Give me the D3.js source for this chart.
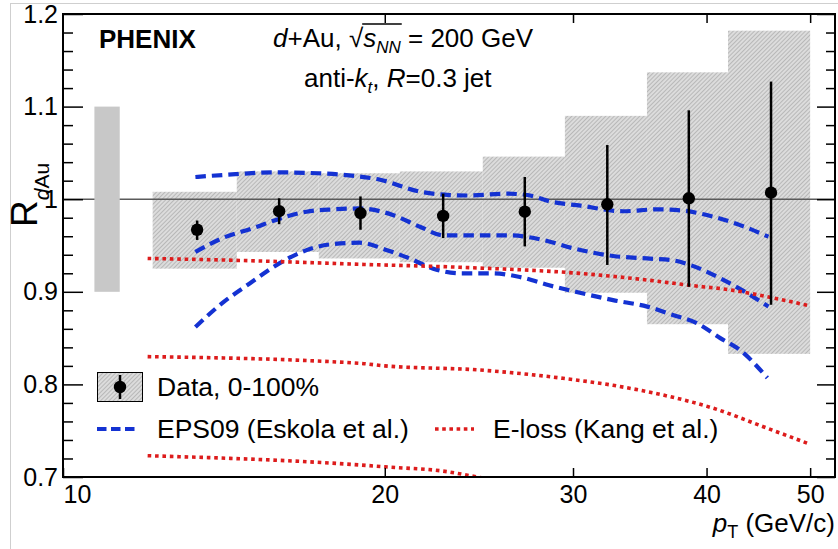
<!DOCTYPE html>
<html>
<head>
<meta charset="utf-8">
<script src="https://cdn.jsdelivr.net/npm/d3@7"></script>
<style>
  html, body { margin: 0; padding: 0; background: #fff; }
  svg { display: block; font-family: "Liberation Sans", Arial, sans-serif; }
</style>
</head>
<body>
<div id="chart"></div>
<script>
// measured points (pT in GeV/c, R_dAu)
const ptCenters = [13.35, 15.93, 18.98, 22.68, 27.04, 32.3, 38.5, 45.96];
const rdau = [0.967, 0.987, 0.985, 0.982, 0.9865, 0.9945, 1.001, 1.007];
const statHigh = [0.977, 1.001, 1.003, 1.006, 1.024, 1.0585, 1.096, 1.127];
const statLow = [0.956, 0.973, 0.967, 0.958, 0.949, 0.929, 0.9055, 0.886];

// systematic boxes per bin
const binEdges = [12.13, 14.54, 17.35, 20.66, 24.7, 29.48, 35.18, 41.89, 50.0];
const sysHigh = [1.008, 1.03, 1.028, 1.03, 1.046, 1.09, 1.137, 1.182];
const sysLow = [0.925, 0.943, 0.936, 0.932, 0.926, 0.899, 0.865, 0.833];

// global normalisation box
const normPt = [10.7, 11.3];
const normRange = [0.9, 1.1];

// EPS09 band (upper / central / lower)
const eps09Upper = [[13.3, 1.024], [14.5, 1.027], [15.7, 1.029], [17.3, 1.028], [18.8, 1.025],
  [19.8, 1.021], [21.6, 1.008], [23.0, 1.0045], [24.0, 1.004], [26.0, 1.006], [27.2, 1.0045],
  [28.7, 0.997], [30.5, 0.993], [33.4, 0.987], [35.9, 0.989], [37.8, 0.988], [40.6, 0.981],
  [43.0, 0.972], [45.7, 0.9595]];
const eps09Central = [[13.3, 0.943], [14.1, 0.958], [15.05, 0.9686], [15.95, 0.979], [16.9, 0.9865],
  [17.9, 0.989], [18.95, 0.99], [20.35, 0.983], [21.6, 0.97], [22.7, 0.961], [24.0, 0.961],
  [26.2, 0.961], [28.1, 0.956], [30.0, 0.947], [32.7, 0.9387], [35.2, 0.936], [37.2, 0.934],
  [38.6, 0.929], [41.2, 0.9145], [43.3, 0.901], [45.7, 0.884]];
const eps09Lower = [[13.3, 0.862], [14.1, 0.888], [14.95, 0.909], [15.95, 0.931], [16.9, 0.945],
  [17.9, 0.9516], [18.95, 0.953], [20.1, 0.945], [21.1, 0.936], [22.2, 0.925], [23.5, 0.92],
  [25.2, 0.92], [26.75, 0.916], [28.5, 0.907], [30.45, 0.899], [32.7, 0.891], [35.2, 0.884],
  [37.2, 0.875], [39.2, 0.866], [41.2, 0.85], [43.0, 0.837], [45.6, 0.807]];

// energy loss curves
const elossUpper = [[12.0, 0.936], [14.5, 0.934], [18.95, 0.9297], [23.5, 0.9265], [31.1, 0.919],
  [35.2, 0.9127], [38.6, 0.907], [42.1, 0.902], [45.6, 0.8947], [50.0, 0.8847]];
const elossMiddle = [[12.0, 0.83], [18.95, 0.8228], [20.0, 0.82], [24.5, 0.8156], [29.35, 0.8066],
  [32.7, 0.799], [36.4, 0.7886], [40.6, 0.7742], [45.2, 0.7543], [50.0, 0.7353]];
const elossLower = [[12.0, 0.723], [18.95, 0.713], [20.0, 0.711], [22.9, 0.7057], [24.4, 0.7],
  [25.5, 0.696]];

const xTickValues = [10, 20, 30, 40, 50];
const yTickValues = [0.7, 0.8, 0.9, 1.0, 1.1, 1.2];

const WIDTH = 838;
const HEIGHT = 549;
const PLOT = { left: 63, right: 835, top: 14, bottom: 477 };
const BLUE = "#1432d2";
const RED = "#dd1c1c";
const FONT = 25;
const HEAD_FONT = 26;
const LEGEND_FONT = 26.5;

const svg = d3.select("#chart").append("svg")
  .attr("width", WIDTH)
  .attr("height", HEIGHT)
  .attr("viewBox", [0, 0, WIDTH, HEIGHT]);

svg.append("rect").attr("width", WIDTH).attr("height", HEIGHT).attr("fill", "#fff");
svg.append("rect")
  .attr("x", 10.5).attr("y", 3.5)
  .attr("width", WIDTH).attr("height", HEIGHT)
  .attr("fill", "none").attr("stroke", "#cfcfcf").attr("stroke-width", 1);

const defs = svg.append("defs");
const hatch = defs.append("pattern")
  .attr("id", "hatch")
  .attr("patternUnits", "userSpaceOnUse")
  .attr("width", 3).attr("height", 3)
  .attr("patternTransform", "rotate(45)");
hatch.append("rect").attr("width", 3).attr("height", 3).attr("fill", "#dcdcdc");
hatch.append("line").attr("x1", 0.5).attr("x2", 0.5).attr("y1", 0).attr("y2", 3)
  .attr("stroke", "#b4b4b4").attr("stroke-width", 0.9);

defs.append("clipPath").attr("id", "plot-clip")
  .append("rect")
  .attr("x", PLOT.left).attr("y", PLOT.top)
  .attr("width", PLOT.right - PLOT.left).attr("height", PLOT.bottom - PLOT.top);

const x = d3.scaleLog().domain([10, 52.75]).range([PLOT.left, PLOT.right]);
const y = d3.scaleLinear().domain([0.7, 1.2]).range([PLOT.bottom, PLOT.top]);

const gPlot = svg.append("g").attr("clip-path", "url(#plot-clip)");

// systematic boxes
gPlot.append("g").selectAll("rect")
  .data(sysHigh)
  .join("rect")
  .attr("x", (d, i) => x(binEdges[i]))
  .attr("width", (d, i) => x(binEdges[i + 1]) - x(binEdges[i]))
  .attr("y", (d) => y(d))
  .attr("height", (d, i) => y(sysLow[i]) - y(d))
  .attr("fill", "url(#hatch)");

// unity line
gPlot.append("line")
  .attr("x1", PLOT.left).attr("x2", PLOT.right)
  .attr("y1", y(1)).attr("y2", y(1))
  .attr("stroke", "#5a5a5a").attr("stroke-width", 1.5);

// normalisation box
gPlot.append("rect")
  .attr("x", x(normPt[0]))
  .attr("width", x(normPt[1]) - x(normPt[0]))
  .attr("y", y(normRange[1]))
  .attr("height", y(normRange[0]) - y(normRange[1]))
  .attr("fill", "#c8c8c8");

const line = d3.line()
  .x((d) => x(d[0]))
  .y((d) => y(d[1]))
  .curve(d3.curveMonotoneX);

const curves = [
  { data: eps09Upper, color: BLUE, dash: "10.5,6", width: 4.2 },
  { data: eps09Central, color: BLUE, dash: "10.5,6", width: 4.2 },
  { data: eps09Lower, color: BLUE, dash: "10.5,6", width: 4.2 },
  { data: elossUpper, color: RED, dash: "3.6,3.8", width: 3.6 },
  { data: elossMiddle, color: RED, dash: "3.6,3.8", width: 3.6 },
  { data: elossLower, color: RED, dash: "3.6,3.8", width: 3.6 },
];
gPlot.append("g").selectAll("path")
  .data(curves)
  .join("path")
  .attr("d", (c) => line(c.data))
  .attr("fill", "none")
  .attr("stroke", (c) => c.color)
  .attr("stroke-width", (c) => c.width)
  .attr("stroke-dasharray", (c) => c.dash);

// stat error bars and markers
const gData = gPlot.append("g");
gData.selectAll("line")
  .data(rdau)
  .join("line")
  .attr("x1", (d, i) => x(ptCenters[i]))
  .attr("x2", (d, i) => x(ptCenters[i]))
  .attr("y1", (d, i) => y(statHigh[i]))
  .attr("y2", (d, i) => y(statLow[i]))
  .attr("stroke", "#000")
  .attr("stroke-width", 2.5);
gData.selectAll("circle")
  .data(rdau)
  .join("circle")
  .attr("cx", (d, i) => x(ptCenters[i]))
  .attr("cy", (d) => y(d))
  .attr("r", 6.2)
  .attr("fill", "#000");

// axes
const yMinor = d3.range(0.72, 1.2, 0.02).filter((v) => Math.abs(v * 10 - Math.round(v * 10)) > 1e-6);
const yLabel = (d) => (Math.abs(d - 1) < 1e-9 ? "1" : d.toFixed(1));

function styleAxis(g) {
  g.select(".domain").remove();
  g.selectAll(".tick line").attr("stroke", "#000").attr("stroke-width", 1.5);
  g.selectAll(".tick text")
    .attr("fill", "#000")
    .attr("font-size", FONT)
    .attr("font-family", "Liberation Sans, Arial, sans-serif");
}

svg.append("g")
  .attr("transform", `translate(${PLOT.left},0)`)
  .call(d3.axisLeft(y).tickValues(yTickValues).tickFormat(yLabel).tickSize(-20).tickPadding(5))
  .call(styleAxis);
svg.append("g")
  .attr("transform", `translate(${PLOT.left},0)`)
  .call(d3.axisLeft(y).tickValues(yMinor).tickFormat("").tickSize(-10))
  .call(styleAxis);
svg.append("g")
  .attr("transform", `translate(${PLOT.right},0)`)
  .call(d3.axisRight(y).tickValues(yTickValues).tickFormat("").tickSize(-18))
  .call(styleAxis);
svg.append("g")
  .attr("transform", `translate(${PLOT.right},0)`)
  .call(d3.axisRight(y).tickValues(yMinor).tickFormat("").tickSize(-9))
  .call(styleAxis);

const xAxis = svg.append("g")
  .attr("transform", `translate(0,${PLOT.bottom})`)
  .call(d3.axisBottom(x).tickValues(xTickValues).tickFormat(d3.format("d")).tickSize(-9).tickPadding(8))
  .call(styleAxis);
xAxis.selectAll(".tick text").filter((d) => d === 10)
  .attr("text-anchor", "start");
svg.append("g")
  .attr("transform", `translate(0,${PLOT.top})`)
  .call(d3.axisTop(x).tickValues(xTickValues.slice(1)).tickFormat("").tickSize(-9))
  .call(styleAxis);

svg.append("rect")
  .attr("x", PLOT.left).attr("y", PLOT.top)
  .attr("width", PLOT.right - PLOT.left).attr("height", PLOT.bottom - PLOT.top)
  .attr("fill", "none").attr("stroke", "#000").attr("stroke-width", 2);

// text with sub/superscripts built from tspans
function richText(parent, px, py, pieces, anchor = "start") {
  const t = parent.append("text")
    .attr("x", px).attr("y", py)
    .attr("text-anchor", anchor)
    .attr("fill", "#000");
  pieces.forEach((p) => {
    const ts = t.append("tspan")
      .text(p.t)
      .attr("font-size", p.size || FONT);
    if (p.italic) ts.attr("font-style", "italic");
    if (p.bold) ts.attr("font-weight", "bold");
    if (p.dy) ts.attr("dy", p.dy);
  });
  return t;
}

richText(svg, 99, 48, [{ t: "PHENIX", bold: true, size: HEAD_FONT }]);

const header = richText(svg, 273, 47, [
  { t: "d", italic: true, size: HEAD_FONT },
  { t: "+Au, ", size: HEAD_FONT },
  { t: "\u221A", size: HEAD_FONT },
  { t: "s", italic: true, size: HEAD_FONT },
  { t: "NN", italic: true, size: 17, dy: 6 },
  { t: " = 200 GeV", size: HEAD_FONT, dy: -6 },
]);
{
  const node = header.node();
  const rad = node.getExtentOfChar(6);
  const nn = node.getExtentOfChar(9);
  svg.append("line")
    .attr("x1", rad.x + rad.width - 1).attr("x2", nn.x + nn.width + 1)
    .attr("y1", 24).attr("y2", 24)
    .attr("stroke", "#000").attr("stroke-width", 1.3);
}

richText(svg, 304, 87, [
  { t: "anti-", size: HEAD_FONT },
  { t: "k", italic: true, size: HEAD_FONT },
  { t: "t", italic: true, size: 17, dy: 6 },
  { t: ", ", size: HEAD_FONT, dy: -6 },
  { t: "R", italic: true, size: HEAD_FONT },
  { t: "=0.3 jet", size: HEAD_FONT },
]);

// axis titles
richText(svg, 835, 532, [
  { t: "p", italic: true, size: 26 },
  { t: "T", size: 18, dy: 6 },
  { t: " (GeV/c)", size: 26, dy: -6 },
], "end");

const yTitle = svg.append("g").attr("transform", "translate(37,227) rotate(-90)");
richText(yTitle, 0, 0, [
  { t: "R", size: 37 },
  { t: "d", italic: true, size: 21, dy: 12 },
  { t: "Au", size: 21 },
]);

// legend
const legend = svg.append("g");
legend.append("rect")
  .attr("x", 97.5).attr("y", 372.5).attr("width", 45).attr("height", 29)
  .attr("fill", "url(#hatch)").attr("stroke", "#000").attr("stroke-width", 1);
legend.append("line")
  .attr("x1", 120).attr("x2", 120).attr("y1", 375).attr("y2", 399)
  .attr("stroke", "#000").attr("stroke-width", 2.5);
legend.append("circle").attr("cx", 120).attr("cy", 387).attr("r", 6.2).attr("fill", "#000");
richText(legend, 157, 396, [{ t: "Data, 0-100%", size: LEGEND_FONT }]);

legend.append("line")
  .attr("x1", 97).attr("x2", 137).attr("y1", 429).attr("y2", 429)
  .attr("stroke", BLUE).attr("stroke-width", 4.2).attr("stroke-dasharray", "9.5,4.5");
richText(legend, 157, 438, [{ t: "EPS09 (Eskola et al.)", size: LEGEND_FONT }]);

legend.append("line")
  .attr("x1", 435).attr("x2", 474).attr("y1", 429).attr("y2", 429)
  .attr("stroke", RED).attr("stroke-width", 3.6).attr("stroke-dasharray", "3.6,3.6");
richText(legend, 493, 438, [{ t: "E-loss (Kang et al.)", size: LEGEND_FONT }]);
</script>
</body>
</html>
